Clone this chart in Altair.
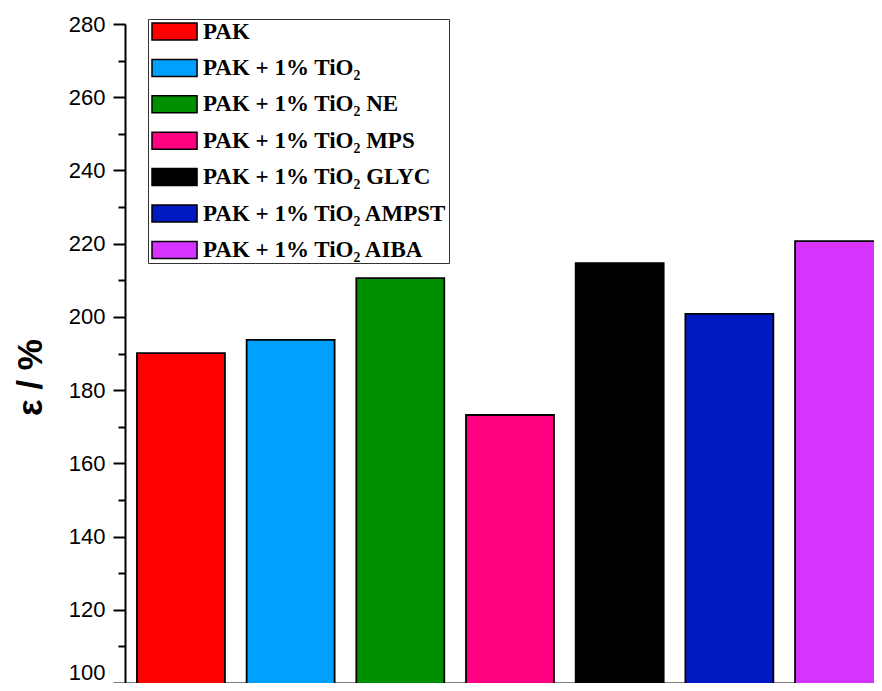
import altair as alt
import pandas as pd

categories = [
    "PAK",
    "PAK + 1% TiO₂",
    "PAK + 1% TiO₂ NE",
    "PAK + 1% TiO₂ MPS",
    "PAK + 1% TiO₂ GLYC",
    "PAK + 1% TiO₂ AMPST",
    "PAK + 1% TiO₂ AIBA",
]
values = [190.1, 193.7, 210.6, 173.2, 214.7, 200.8, 220.7]
colors = ["#FF0000", "#00A0FF", "#008F00", "#FF0080", "#000000", "#0019C0", "#D633FF"]
y_ticks = list(range(100, 281, 10))

df = pd.DataFrame({"sample": categories, "eps": values})

bars = alt.Chart(df).mark_bar(stroke="black", strokeWidth=1.8).encode(
    x=alt.X(
        "sample:N",
        sort=categories,
        scale=alt.Scale(paddingInner=0.198, paddingOuter=0.109, range=[0, 770]),
        axis=alt.Axis(
            title=None, labels=False, ticks=True, tickSize=5, tickColor="#999999",
            tickWidth=1, domainColor="black", domainWidth=2, grid=False,
        ),
    ),
    y=alt.Y(
        "eps:Q",
        scale=alt.Scale(domain=[100, 280], zero=False, nice=False),
        axis=alt.Axis(
            title="ε / %",
            values=y_ticks,
            labelExpr="datum.value % 20 === 0 ? datum.label : ''",
            labelFont="Liberation Sans", labelFontSize=22, labelColor="black",
            labelPadding=8, labelFlush=False, labelOverlap=False,
            labelOffset={"condition": {"test": "datum.value === 100", "value": -11}, "value": 0},
            tickColor="black", tickWidth=2,
            tickSize={"condition": {"test": "datum.value % 20 === 0", "value": 12}, "value": 7},
            domainColor="black", domainWidth=2, grid=False,
            titleFont="Liberation Sans", titleFontSize=35, titleFontWeight="bold",
            titleColor="black", titleAngle=270, titleX=-95, titleY=353,
            titleAlign="center", titleBaseline="middle",
        ),
    ),
    color=alt.Color(
        "sample:N",
        sort=categories,
        scale=alt.Scale(domain=categories, range=colors),
        legend=alt.Legend(
            title=None, orient="none", legendX=23, legendY=-5,
            strokeColor="#333333", fillColor="white", padding=1,
            symbolType="M-1,-1H4.3V1H-1Z", symbolSize=289,
            symbolStrokeColor="black", symbolStrokeWidth=1.5, symbolOpacity=1,
            labelFont="Liberation Serif", labelFontWeight="bold", labelFontSize=23,
            labelColor="black", labelOffset=31, labelLimit=600, rowPadding=12.4,
        ),
    ),
)

chart = bars.properties(
    width=749, height=659,
    autosize=alt.AutoSizeParams(type="none"),
    padding={"left": 117, "top": 16, "right": 0, "bottom": 0},
).configure(background="white").configure_view(stroke=None)

chart.save("out.html", embed_options={"renderer": "svg", "actions": False})
